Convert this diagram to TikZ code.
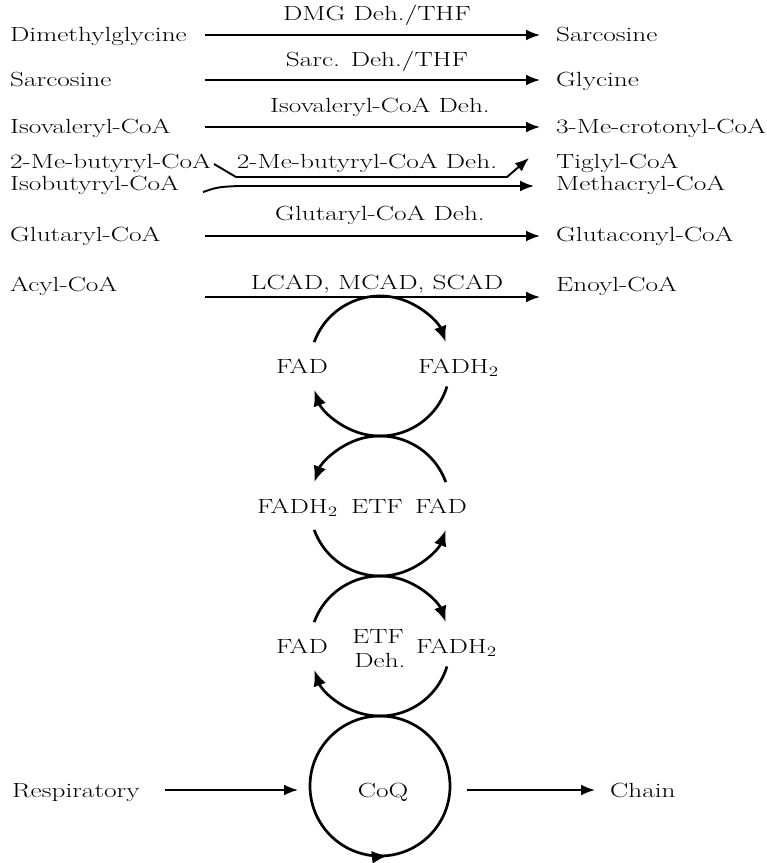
\documentclass[tikz,border=0pt]{standalone}
\usepackage{graphicx}
\usetikzlibrary{arrows.meta,calc,decorations.markings}
\newcommand{\tx}[1]{\scalebox{1.33}[1]{#1}}
\begin{document}
\begin{tikzpicture}[x=1pt,y=-1pt,
  every node/.style={font=\fontsize{20.5}{24}\selectfont, inner sep=0pt},
  txt/.style={anchor=base west},
  txte/.style={anchor=base east},
  lbl/.style={anchor=base},
  rxn/.style={line width=1.9pt, -{Latex[length=14pt,width=11pt]}},
  cyc/.style={line width=2.7pt},
  cyctip/.style={cyc, -{Latex[length=16pt,width=13pt]}},
]
\useasboundingbox (0,0) rectangle (767,863);

% row 1
\node[txt] (l1) at (10,41) {\tx{Dimethylglycine}};
\node[txt] (r1) at (556,41) {\tx{Sarcosine}};
\node[lbl] (e1) at (377,20) {\tx{DMG Deh./THF}};
\coordinate (s1) at (205,35); \coordinate (t1) at (540,35);
\draw[rxn] (s1) -- (t1);

% row 2
\node[txt] (l2) at (10,86) {\tx{Sarcosine}};
\node[txt] (r2) at (556,86) {\tx{Glycine}};
\node[lbl] (e2) at (377,66) {\tx{Sarc. Deh./THF}};
\coordinate (s2) at (205,80); \coordinate (t2) at (540,80);
\draw[rxn] (s2) -- (t2);

% row 3
\node[txt] (l3) at (10,133) {\tx{Isovaleryl-CoA}};
\node[txt] (r3) at (556,133) {\tx{3-Me-crotonyl-CoA}};
\node[lbl] (e3) at (380,112) {\tx{Isovaleryl-CoA Deh.}};
\coordinate (s3) at (205,127); \coordinate (t3) at (540,127);
\draw[rxn] (s3) -- (t3);

% rows 4/5
\node[txt] (l4) at (10,168) {\tx{2-Me-butyryl-CoA}};
\node[txt] (l5) at (10,190) {\tx{Isobutyryl-CoA}};
\node[txt] (r4) at (556,168) {\tx{Tiglyl-CoA}};
\node[txt] (r5) at (556,190) {\tx{Methacryl-CoA}};
\node[lbl] (e4) at (367,168) {\tx{2-Me-butyryl-CoA Deh.}};
\coordinate (s4) at (214,164); \coordinate (a4) at (236,177);
\coordinate (b4) at (507,177); \coordinate (t4) at (529,158);
\draw[rxn] (s4) -- (a4) -- (b4) -- (t4);
\coordinate (s5) at (203,192); \coordinate (a5) at (238,186);
\coordinate (t5) at (534,186);
\draw[rxn] (s5) .. controls (218,187) .. (a5) -- (t5);

% row 6
\node[txt] (l6) at (10,241) {\tx{Glutaryl-CoA}};
\node[txt] (r6) at (556,241) {\tx{Glutaconyl-CoA}};
\node[lbl] (e6) at (380,220) {\tx{Glutaryl-CoA Deh.}};
\coordinate (s6) at (205,236); \coordinate (t6) at (540,236);
\draw[rxn] (s6) -- (t6);

% row 7
\node[txt] (l7) at (10,291) {\tx{Acyl-CoA}};
\node[txt] (r7) at (556,291) {\tx{Enoyl-CoA}};
\node[lbl] (e7) at (377,289) {\tx{LCAD, MCAD, SCAD}};
\coordinate (s7) at (205,297); \coordinate (t7) at (540,297);
\draw[rxn] (s7) -- (t7);

% cycles
\coordinate (c1) at (380,366);
\coordinate (c2) at (380,506);
\coordinate (c3) at (380,646);
\coordinate (c4) at (380,786);

% cycle 1 (clockwise)
\draw[cyctip] ($(c1)+(-160:70)$) arc[start angle=-160, end angle=-20, radius=70];
\draw[cyctip] ($(c1)+(17:70)$) arc[start angle=17, end angle=160, radius=70];
\node[lbl] (f1a) at (302,373) {\tx{FAD}};
\node[txt] (f1b) at (418,373) {\tx{FADH$_2$}};

% cycle 2 (counter-clockwise)
\draw[cyctip] ($(c2)+(-20:70)$) arc[start angle=-20, end angle=-160, radius=70];
\draw[cyctip] ($(c2)+(160:70)$) arc[start angle=160, end angle=20, radius=70];
\node[txte] (f2a) at (338,513) {\tx{FADH$_2$}};
\node[lbl] (etf) at (377,513) {\tx{ETF}};
\node[lbl] (f2b) at (441,513) {\tx{FAD}};

% cycle 3 (clockwise)
\draw[cyctip] ($(c3)+(-160:70)$) arc[start angle=-160, end angle=-20, radius=70];
\draw[cyctip] ($(c3)+(17:70)$) arc[start angle=17, end angle=160, radius=70];
\node[lbl] (f3a) at (302,653) {\tx{FAD}};
\node[lbl] (etfd1) at (378,643) {\tx{ETF}};
\node[lbl] (etfd2) at (380,667) {\tx{Deh.}};
\node[txt] (f3b) at (416,653) {\tx{FADH$_2$}};

% CoQ cycle
\draw[cyc, postaction={decorate}, decoration={markings,
  mark=at position 0.232 with {\arrowreversed{Latex[length=16pt,width=13pt]}}}]
  (c4) circle[radius=70];
\node[lbl] (coq) at (383,797) {\tx{CoQ}};

% respiratory chain
\node[txt] (resp) at (12,797) {\tx{Respiratory}};
\node[txt] (chain) at (610,797) {\tx{Chain}};
\coordinate (s8) at (165,790); \coordinate (t8) at (298,790);
\coordinate (s9) at (467,790); \coordinate (t9) at (595,790);
\draw[rxn] (s8) -- (t8);
\draw[rxn] (s9) -- (t9);
\end{tikzpicture}
\end{document}
